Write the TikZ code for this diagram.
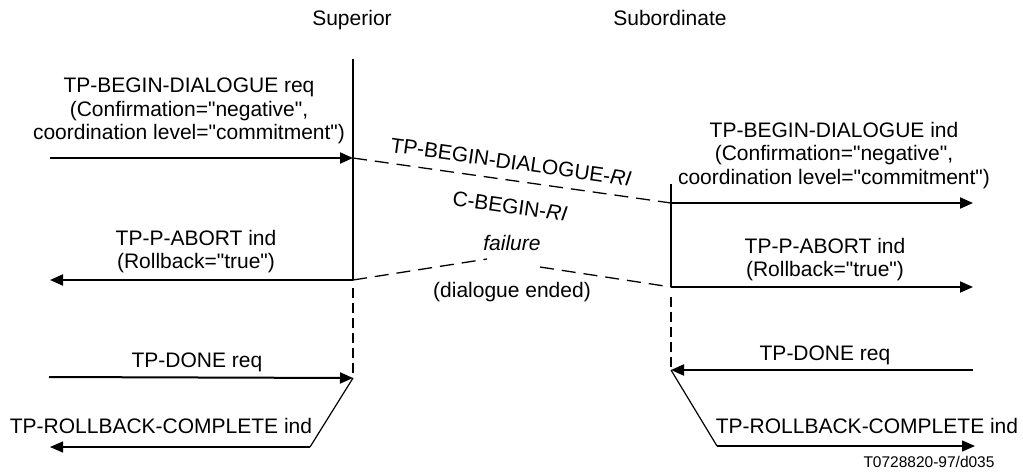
\documentclass[tikz,border=0pt]{standalone}
\usepackage{fontspec}
\setmainfont{Liberation Sans}[Ligatures=TeXOff]
\usetikzlibrary{arrows.meta}
\begin{document}
\begin{tikzpicture}[x=1pt,y=-1pt,
  lbl/.style={font=\fontsize{21}{23.5}\selectfont, inner sep=0pt, align=center},
  life/.style={line width=2pt},
  lifedash/.style={line width=2pt, dash pattern=on 10pt off 5pt},
  msg/.style={line width=2pt, -{Triangle[length=13pt,width=11pt]}},
  thinmsg/.style={line width=1.3pt, -{Triangle[length=13pt,width=11pt]}},
  slant/.style={line width=1.2pt},
  pdu/.style={line width=1.3pt, dash pattern=on 14pt off 8pt},
]
\useasboundingbox (0,0) rectangle (1023,475);

% lifeline points
\coordinate (supTop) at (353,59);
\coordinate (supA) at (353,158);
\coordinate (supB) at (353,280);
\coordinate (supC) at (353,288);
\coordinate (supD) at (353,378);
\coordinate (subTop) at (671,184);
\coordinate (subA) at (671,203);
\coordinate (subB) at (671,287);
\coordinate (subC) at (671,297);
\coordinate (subD) at (671,370);

% outer points
\coordinate (l1) at (50,158);
\coordinate (l2) at (50,280);
\coordinate (l3) at (49,377);
\coordinate (l4a) at (310,447);
\coordinate (l4) at (50,447);
\coordinate (r1) at (973,203);
\coordinate (r2) at (973,287);
\coordinate (r3) at (973,370);
\coordinate (r4a) at (717,446);
\coordinate (r4) at (975,446);
\coordinate (fl) at (487,259);
\coordinate (fr) at (540,267);

% headers
\node[lbl, anchor=base] (hsup) at (352,25) {Superior};
\node[lbl, anchor=base] (hsub) at (670,25) {Subordinate};

% lifelines
\draw[life] (supTop) -- (supB);
\draw[lifedash] (supC) -- (supD);
\draw[life] (subTop) -- (subB);
\draw[lifedash] (subC) -- (subD);

% left side
\node[lbl, anchor=north] (t1) at (189,78) {TP-BEGIN-DIALOGUE req\\(Confirmation="negative",\\coordination level="commitment")};
\draw[msg] (l1) -- (supA);
\node[lbl, anchor=north] (t2) at (196,230) {TP-P-ABORT ind\\(Rollback="true")};
\draw[msg] (supB) -- (l2);
\node[lbl, anchor=base] (t3) at (197,367) {TP-DONE req};
\draw[msg] (l3) -- (supD);
\node[lbl, anchor=base] (t4) at (161,433) {TP-ROLLBACK-COMPLETE ind};
\draw[slant] (supD) -- (l4a);
\draw[thinmsg] (l4a) -- (l4);

% right side
\node[lbl, anchor=north] (u1) at (834,122) {TP-BEGIN-DIALOGUE ind\\(Confirmation="negative",\\coordination level="commitment")};
\draw[msg] (subA) -- (r1);
\node[lbl, anchor=north] (u2) at (825,238) {TP-P-ABORT ind\\(Rollback="true")};
\draw[msg] (subB) -- (r2);
\node[lbl, anchor=base] (u3) at (825,360) {TP-DONE req};
\draw[msg] (r3) -- (subD);
\node[lbl, anchor=base] (u4) at (867,433) {TP-ROLLBACK-COMPLETE ind};
\draw[slant] (subD) -- (r4a);
\draw[thinmsg] (r4a) -- (r4);

% protocol exchange
\draw[pdu] (supA) -- (subA);
\node[lbl, rotate=-8.05] (p1) at (511,162) {TP-BEGIN-DIALOGUE-\textit{RI}};
\node[lbl, rotate=-8.05] (p2) at (510,206) {C-BEGIN-\textit{RI}};
\node[lbl, font=\fontsize{21}{23.5}\selectfont\itshape] (fail) at (512,243) {failure};
\draw[pdu] (supB) -- (fl);
\draw[pdu] (fr) -- (subB);
\node[lbl] (ended) at (512,292) {(dialogue ended)};

\node[font=\fontsize{15.5}{18}\selectfont, inner sep=0pt, anchor=base] (ref) at (929,467) {T0728820-97/d035};
\end{tikzpicture}
\end{document}
